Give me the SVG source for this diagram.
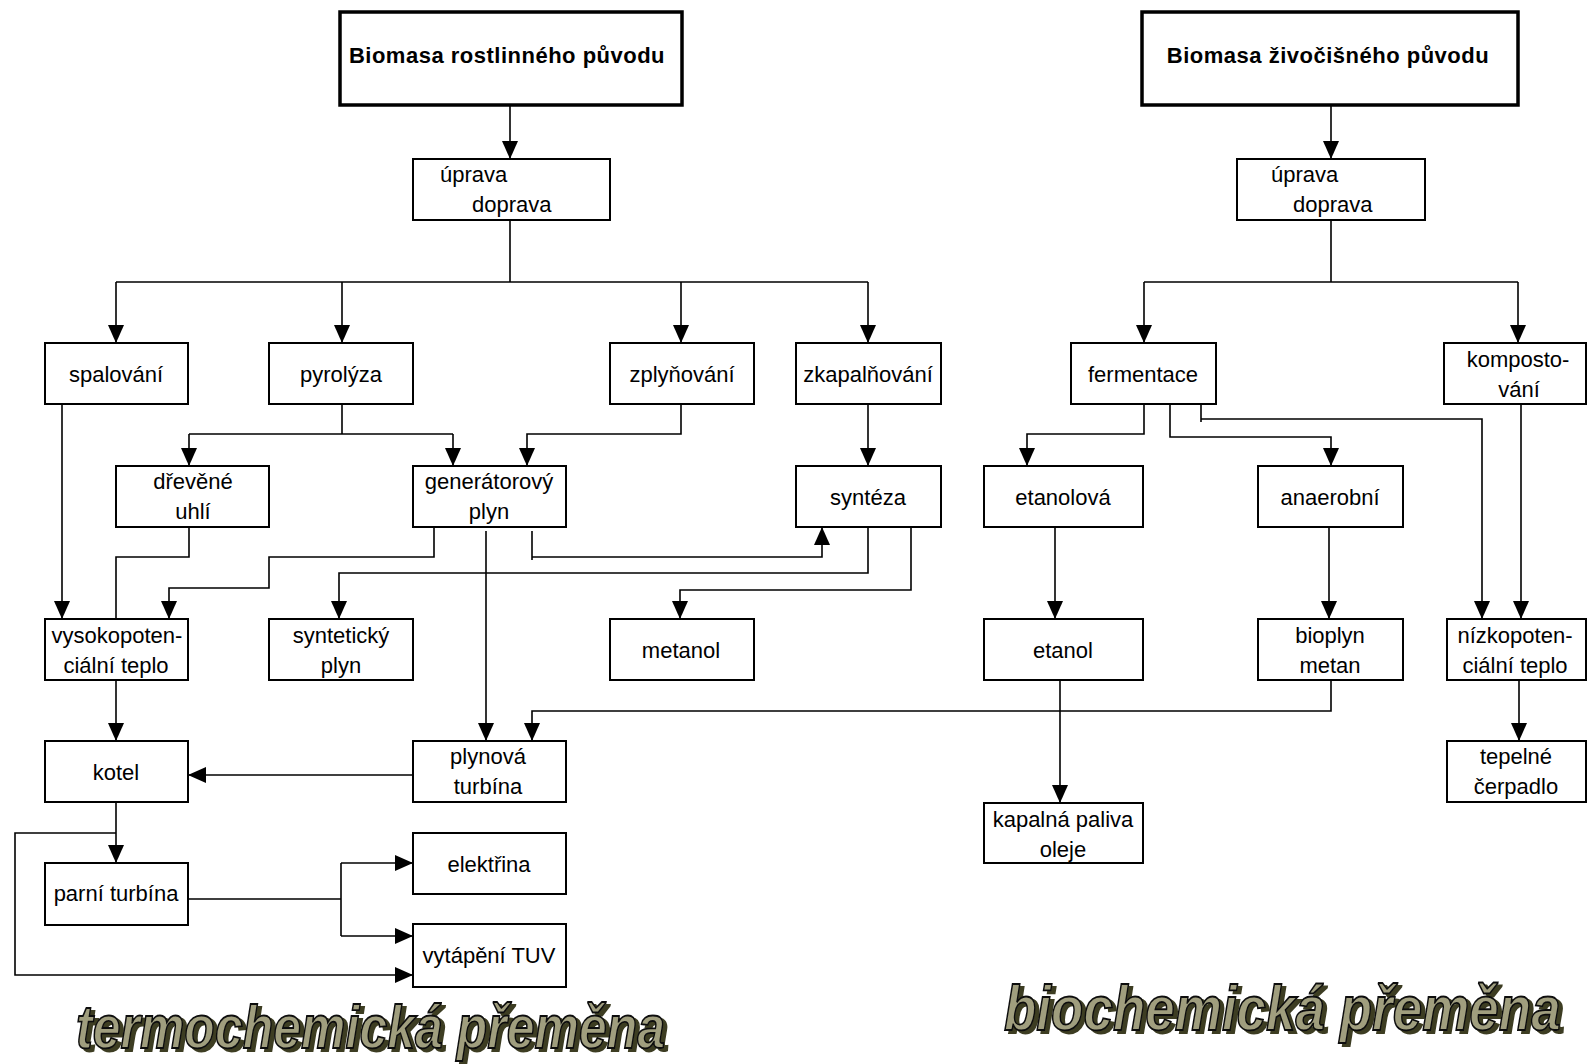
<svg xmlns="http://www.w3.org/2000/svg" width="1587" height="1064" viewBox="0 0 1587 1064">
<defs>
<marker id="arr" markerUnits="userSpaceOnUse" markerWidth="18" markerHeight="16" refX="18" refY="8" orient="auto">
<path d="M0,0 L18,8 L0,16 z" fill="#000"/>
</marker>
<filter id="shadow" x="-5%" y="-20%" width="110%" height="150%">
<feOffset in="SourceAlpha" dx="4" dy="3" result="off"/>
<feFlood flood-color="#3c3c22"/>
<feComposite in2="off" operator="in" result="sh"/>
<feMerge><feMergeNode in="sh"/><feMergeNode in="SourceGraphic"/></feMerge>
</filter>
<style>
.box{fill:#fff;stroke:#000;stroke-width:2}
.top{fill:#fff;stroke:#000;stroke-width:3.5}
.t{font-family:"Liberation Sans",Arial,sans-serif;font-size:22px;fill:#000;text-anchor:middle}
.tl{font-family:"Liberation Sans",Arial,sans-serif;font-size:22px;fill:#000}
.tb{font-family:"Liberation Sans",Arial,sans-serif;font-size:22px;font-weight:bold;fill:#000;text-anchor:middle;letter-spacing:0.5px}
.c{fill:none;stroke:#000;stroke-width:1.6}
.ca{fill:none;stroke:#000;stroke-width:1.6;marker-end:url(#arr)}
.wa{font-family:"Liberation Sans",Arial,sans-serif;font-weight:bold;font-style:italic;fill:#a09e7e;stroke:#111;stroke-width:1.5}
</style>
</defs>
<rect width="1587" height="1064" fill="#fff"/>

<g id="connectors">
<path class="ca" d="M510,105 V159"/>
<path class="ca" d="M1331,105 V159"/>
<path class="c" d="M510,220 V282 M116,282 H868"/>
<path class="ca" d="M116,282 V343"/>
<path class="ca" d="M342,282 V343"/>
<path class="ca" d="M681,282 V343"/>
<path class="ca" d="M868,282 V343"/>
<path class="c" d="M1331,220 V282 M1144,282 H1518"/>
<path class="ca" d="M1144,282 V343"/>
<path class="ca" d="M1518,282 V343"/>
<path class="ca" d="M62,404 V619"/>
<path class="c" d="M342,404 V434 M189,434 H453"/>
<path class="ca" d="M189,434 V466"/>
<path class="ca" d="M453,434 V466"/>
<path class="ca" d="M681,404 V434 H527 V466"/>
<path class="ca" d="M868,404 V466"/>
<path class="c" d="M189,527 V557 H116 V619"/>
<path class="ca" d="M434,527 V557 H269 V588 H169 V619"/>
<path class="ca" d="M486,531 V741"/>
<path class="c" d="M532,531 V560"/>
<path class="ca" d="M532,557 H822 V527"/>
<path class="ca" d="M868,527 V573 H339 V619"/>
<path class="ca" d="M911,527 V590 H680 V619"/>
<path class="ca" d="M116,680 V741"/>
<path class="ca" d="M1331,680 V711 H532 V741"/>
<path class="ca" d="M413,775 H188"/>
<path class="ca" d="M116,802 V863"/>
<path class="ca" d="M116,833 H15 V975 H413"/>
<path class="c" d="M188,899 H341 M341,863 V936"/>
<path class="ca" d="M341,863 H413"/>
<path class="ca" d="M341,936 H413"/>
<path class="ca" d="M1144,404 V434 H1027 V466"/>
<path class="ca" d="M1170,404 V437 H1331 V466"/>
<path class="c" d="M1201,404 V422"/>
<path class="ca" d="M1201,419 H1482 V619"/>
<path class="ca" d="M1521,404 V619"/>
<path class="ca" d="M1055,527 V619"/>
<path class="ca" d="M1329,527 V619"/>
<path class="ca" d="M1060,680 V803"/>
<path class="ca" d="M1519,680 V741"/>
</g>

<g id="bio_rost"><rect class="top" x="340" y="12" width="342" height="93"/><text class="tb" x="507" y="63">Biomasa rostlinného původu</text></g>
<g id="bio_ziv"><rect class="top" x="1142" y="12" width="376" height="93"/><text class="tb" x="1328" y="63">Biomasa živočišného původu</text></g>

<g id="uprava1"><rect class="box" x="413" y="159" width="197" height="61"/><text class="tl" x="440" y="182">úprava</text><text class="tl" x="472" y="212">doprava</text></g>
<g id="uprava2"><rect class="box" x="1237" y="159" width="188" height="61"/><text class="tl" x="1271" y="182">úprava</text><text class="tl" x="1293" y="212">doprava</text></g>

<g id="spalovani"><rect class="box" x="45" y="343" width="143" height="61"/><text class="t" x="116" y="382">spalování</text></g>
<g id="pyrolyza"><rect class="box" x="269" y="343" width="144" height="61"/><text class="t" x="341" y="382">pyrolýza</text></g>
<g id="zplynovani"><rect class="box" x="610" y="343" width="144" height="61"/><text class="t" x="682" y="382">zplyňování</text></g>
<g id="zkapalnovani"><rect class="box" x="796" y="343" width="145" height="61"/><text class="t" x="868" y="382">zkapalňování</text></g>
<g id="fermentace"><rect class="box" x="1071" y="343" width="145" height="61"/><text class="t" x="1143" y="382">fermentace</text></g>
<g id="kompostovani"><rect class="box" x="1444" y="343" width="142" height="61"/><text class="t" x="1518" y="367">komposto-</text><text class="t" x="1519" y="397">vání</text></g>

<g id="drevene_uhli"><rect class="box" x="116" y="466" width="153" height="61"/><text class="t" x="193" y="489">dřevěné</text><text class="t" x="193" y="519">uhlí</text></g>
<g id="generatorovy_plyn"><rect class="box" x="413" y="466" width="153" height="61"/><text class="t" x="489" y="489">generátorový</text><text class="t" x="489" y="519">plyn</text></g>
<g id="synteza"><rect class="box" x="796" y="466" width="145" height="61"/><text class="t" x="868" y="505">syntéza</text></g>
<g id="etanolova"><rect class="box" x="984" y="466" width="159" height="61"/><text class="t" x="1063" y="505">etanolová</text></g>
<g id="anaerobni"><rect class="box" x="1258" y="466" width="145" height="61"/><text class="t" x="1330" y="505">anaerobní</text></g>

<g id="vysokopotencialni"><rect class="box" x="45" y="619" width="143" height="61"/><text class="t" x="117" y="643">vysokopoten-</text><text class="t" x="116" y="673">ciální teplo</text></g>
<g id="synteticky_plyn"><rect class="box" x="269" y="619" width="144" height="61"/><text class="t" x="341" y="643">syntetický</text><text class="t" x="341" y="673">plyn</text></g>
<g id="metanol"><rect class="box" x="610" y="619" width="144" height="61"/><text class="t" x="681" y="658">metanol</text></g>
<g id="etanol"><rect class="box" x="984" y="619" width="159" height="61"/><text class="t" x="1063" y="658">etanol</text></g>
<g id="bioplyn"><rect class="box" x="1258" y="619" width="145" height="61"/><text class="t" x="1330" y="643">bioplyn</text><text class="t" x="1330" y="673">metan</text></g>
<g id="nizkopotencialni"><rect class="box" x="1447" y="619" width="139" height="61"/><text class="t" x="1515" y="643">nízkopoten-</text><text class="t" x="1515" y="673">ciální teplo</text></g>

<g id="kotel"><rect class="box" x="45" y="741" width="143" height="61"/><text class="t" x="116" y="780">kotel</text></g>
<g id="plynova_turbina"><rect class="box" x="413" y="741" width="153" height="61"/><text class="t" x="488" y="764">plynová</text><text class="t" x="488" y="794">turbína</text></g>
<g id="tepelne_cerpadlo"><rect class="box" x="1447" y="741" width="139" height="61"/><text class="t" x="1516" y="764">tepelné</text><text class="t" x="1516" y="794">čerpadlo</text></g>
<g id="kapalna_paliva"><rect class="box" x="984" y="803" width="159" height="60"/><text class="t" x="1063" y="827">kapalná paliva</text><text class="t" x="1063" y="857">oleje</text></g>

<g id="parni_turbina"><rect class="box" x="45" y="863" width="143" height="62"/><text class="t" x="116" y="901">parní turbína</text></g>
<g id="elektrina"><rect class="box" x="413" y="833" width="153" height="61"/><text class="t" x="489" y="872">elektřina</text></g>
<g id="vytapeni"><rect class="box" x="413" y="924" width="153" height="63"/><text class="t" x="489" y="963">vytápění TUV</text></g>

<g id="title_termo" filter="url(#shadow)">
<text class="wa" font-size="50" transform="translate(76,1048) scale(1,1.22)">termochemická přeměna</text>
</g>
<g id="title_bio" filter="url(#shadow)">
<text class="wa" font-size="53" transform="translate(1004,1030) scale(1,1.2)">biochemická přeměna</text>
</g>
</svg>
